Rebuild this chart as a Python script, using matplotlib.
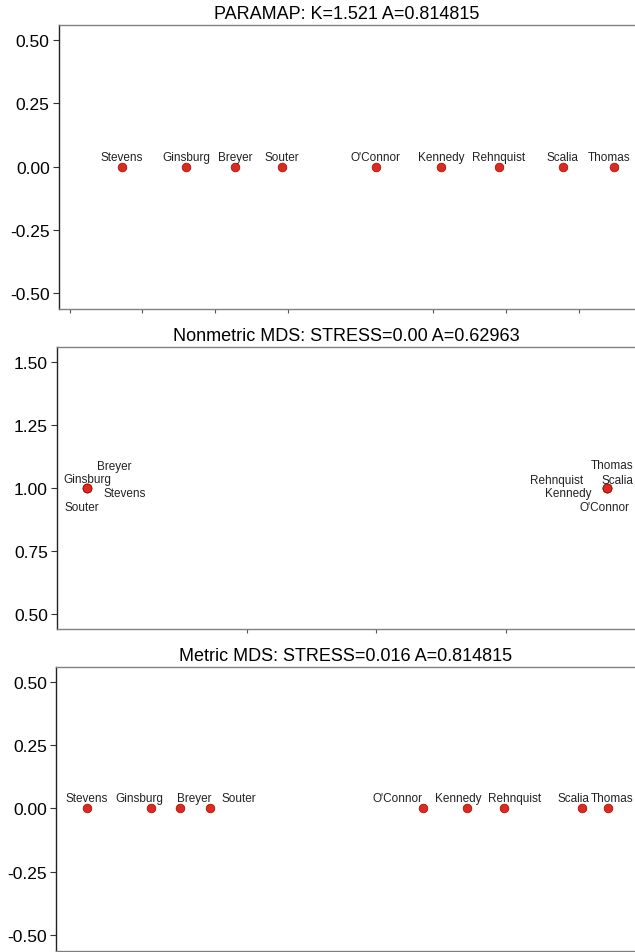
import matplotlib
matplotlib.use("Agg")
import matplotlib.pyplot as plt

plt.rcParams['font.family'] = ['Liberation Sans', 'DejaVu Sans']

# justices, same order in every panel
names = ['Stevens', 'Ginsburg', 'Breyer', 'Souter', "O'Connor",
         'Kennedy', 'Rehnquist', 'Scalia', 'Thomas']

# PARAMAP 1-d solution
paramap_x = [-0.820, -0.600, -0.432, -0.270, 0.053, 0.277, 0.476, 0.696, 0.872]
paramap_y = [0, 0, 0, 0, 0, 0, 0, 0, 0]

# nonmetric MDS collapses into two clusters
nonmetric_x = [-1.116, -1.116, -1.116, -1.116, 0.892, 0.892, 0.892, 0.892, 0.892]
nonmetric_y = [1, 1, 1, 1, 1, 1, 1, 1, 1]

# metric MDS 1-d solution
metric_x = [-0.940, -0.720, -0.621, -0.518, 0.215, 0.366, 0.493, 0.762, 0.851]
metric_y = [0, 0, 0, 0, 0, 0, 0, 0, 0]

titles = ['PARAMAP: K=1.521 A=0.814815',
          'Nonmetric MDS: STRESS=0.00 A=0.62963',
          'Metric MDS: STRESS=0.016 A=0.814815']

# label offsets in pixels (layout only)
off_top = [(0, 10)] * 8 + [(-5, 10)]
off_mid = [(38, -5), (0, 9), (27, 22), (-5, -19), (-3, -19),
           (-39, -5), (-50, 8), (10, 8), (5, 23)]
off_bot = [(0, 10), (-12, 10), (14, 10), (29, 10), (-26, 10),
           (-9, 10), (11, 10), (-9, 10), (4, 10)]

fig = plt.figure(figsize=(6.35, 9.53), dpi=100)

ax1 = fig.add_axes([0.0924, 0.6747, 0.9076, 0.2980])
ax2 = fig.add_axes([0.0898, 0.3389, 0.9102, 0.2959])
ax3 = fig.add_axes([0.0882, 0.0010, 0.9118, 0.2981])


def panel(ax, xs, ys, offs, title, xlim, ylim, yticks, xticks):
    ax.plot(xs, ys, 'o', ms=6.2, mfc='#dd2a1e', mec='#a5170d', mew=0.6,
            zorder=3)
    for n, x, y, o in zip(names, xs, ys, offs):
        ax.annotate(n, (x, y), xytext=o, textcoords='offset pixels',
                    ha='center', va='center', fontsize=8.5, color='#222222')
    ax.set_xlim(xlim)
    ax.set_ylim(ylim)
    ax.set_yticks(yticks)
    ax.set_yticklabels(['%.2f' % t for t in yticks], fontsize=12.5)
    ax.set_xticks(xticks)
    ax.set_xticklabels([])
    ax.tick_params(axis='y', length=4.5, width=0.8, pad=2, color='#333333')
    ax.tick_params(axis='x', length=3, width=0.8, color='#555555')
    ax.spines['right'].set_visible(False)
    ax.spines['left'].set_color('#222222')
    ax.spines['top'].set_color('#808080')
    ax.spines['bottom'].set_color('#808080')
    for s in ax.spines.values():
        s.set_linewidth(1.0)
    ax.set_title(title, fontsize=13, pad=5)


panel(ax1, paramap_x, paramap_y, off_top, titles[0], (-1.038, 0.944),
      (-0.563, 0.559), [-0.5, -0.25, 0, 0.25, 0.5],
      [-1.0, -0.75, -0.5, -0.25, 0.25, 0.5, 0.75])
panel(ax2, nonmetric_x, nonmetric_y, off_mid, titles[1], (-1.232, 1.0),
      (0.441, 1.559), [0.5, 0.75, 1.0, 1.25, 1.5], [-0.5, 0, 0.5])
panel(ax3, metric_x, metric_y, off_bot, titles[2], (-1.047, 0.944),
      (-0.563, 0.559), [-0.5, -0.25, 0, 0.25, 0.5], [])

fig.savefig('out.png', dpi=100)
